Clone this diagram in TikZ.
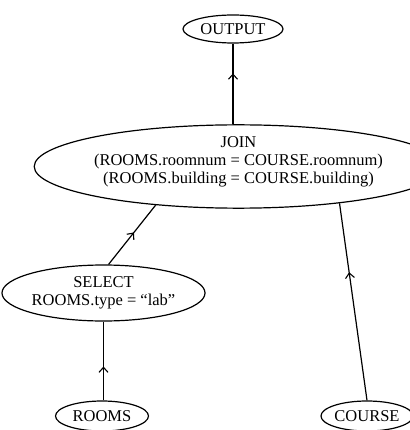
\documentclass[tikz,border=0pt]{standalone}
\usepackage{fontspec}
\setmainfont{Liberation Serif}
\usetikzlibrary{shapes.geometric,arrows.meta,decorations.markings}

\tikzset{
  op/.style={draw, ellipse, line width=1.2pt, inner sep=0pt, align=center,
    font=\fontsize{16.5}{18}\selectfont},
  midarrow/.style={line width=1.2pt, postaction={decorate},
    decoration={markings, mark=at position #1 with
      {\arrow{Straight Barb[length=5pt,width=9pt,line width=1.1pt]}}}}
}

\begin{document}
\begin{tikzpicture}[
  x=1pt, y=-1pt
]
\useasboundingbox (0,0) rectangle (409,430);

\node [op, minimum width=100, minimum height=28] (output) at (233,29) {OUTPUT};
\node [op, minimum width=340, minimum height=67] (join) at (238.5,166.5)
  {JOIN\\(ROOMS.roomnum = COURSE.roomnum)\\(ROOMS.building = COURSE.building)\rule[-12pt]{0pt}{12pt}};
\node [op, minimum width=187, minimum height=56] (select) at (103.5,293)
  {SELECT\\ROOMS.type = ``lab''};
\node [op, minimum width=93, minimum height=30] (rooms) at (102,416) {ROOMS};
\node [op, minimum width=84, minimum height=30] (course) at (367,416) {COURSE};

\draw [midarrow=0.63] (join.north -| output.south) -- (output.south);
\draw [midarrow=0.54] (select.80) -- (join.205);
\draw [midarrow=0.43] (rooms.north -| select.south) -- (select.south);
\draw [midarrow=0.65] (course.north) -- (join.-20);
\end{tikzpicture}
\end{document}
